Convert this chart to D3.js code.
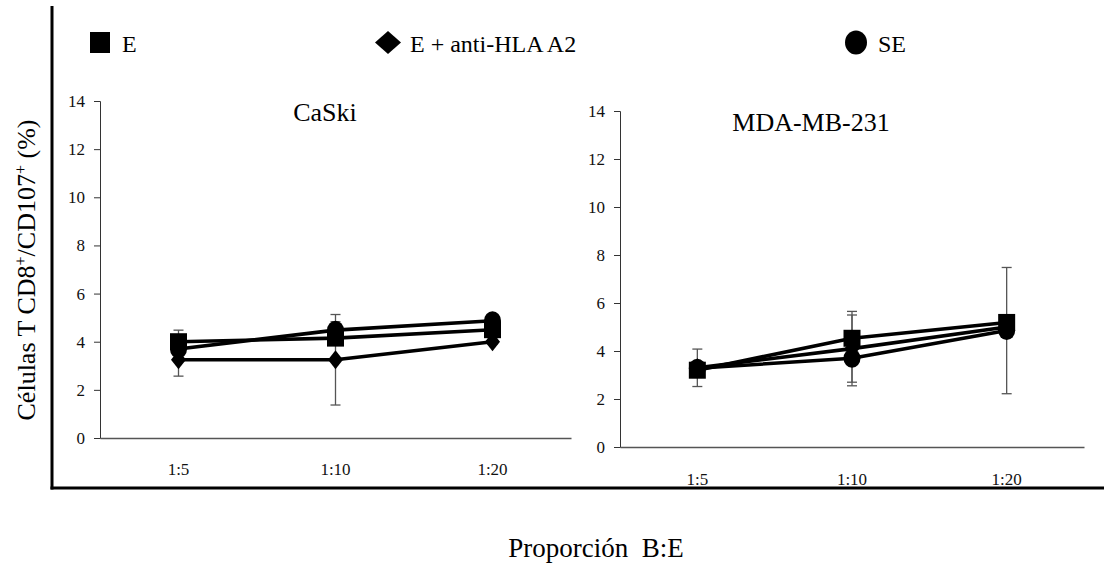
<!DOCTYPE html>
<html><head><meta charset="utf-8">
<script src="https://cdn.jsdelivr.net/npm/d3@7"></script>
<style>body{margin:0;background:#fff}</style>
</head><body>
<svg id="c" width="1104" height="567"></svg>
<script>
// ---- data ----
const categories = ["1:5", "1:10", "1:20"];
const seriesNames = ["E", "E + anti-HLA A2", "SE"];
const seriesShapes = ["square", "diamond", "circle"];
const yTicks = [0, 2, 4, 6, 8, 10, 12, 14];

const caskiE = [4.0, 4.15, 4.5];
const caskiEErr = [0.48, 0.2, 0.1];
const caskiA2 = [3.25, 3.25, 4.0];
const caskiA2Err = [0.68, 1.88, 0.1];
const caskiSE = [3.7, 4.48, 4.87];
const caskiSEErr = [0.2, 0.35, 0.1];

const mdaE = [3.2, 4.53, 5.19];
const mdaEErr = [0.3, 0.97, 0.2];
const mdaA2 = [3.3, 4.1, 5.0];
const mdaA2Err = [0.78, 1.55, 0.2];
const mdaSE = [3.28, 3.7, 4.85];
const mdaSEErr = [0.2, 1.0, 2.63];

const panelTitles = ["CaSki", "MDA-MB-231"];

// ---- drawing ----
const FONT = "Liberation Serif";
const svg = d3.select("#c");

function addText(parent, str, x, y, size, anchor) {
  return parent.append("text").attr("x", x).attr("y", y)
    .attr("font-family", FONT).attr("font-size", size)
    .attr("text-anchor", anchor || "middle").attr("fill", "#000").text(str);
}

const panels = [
  { title: panelTitles[0], xr: [100, 571], yr: [438, 101], titleX: 325, titleY: 121, labY: 475,
    series: [[caskiE, caskiEErr], [caskiA2, caskiA2Err], [caskiSE, caskiSEErr]] },
  { title: panelTitles[1], xr: [620, 1084], yr: [447, 111], titleX: 811, titleY: 131, labY: 485,
    series: [[mdaE, mdaEErr], [mdaA2, mdaA2Err], [mdaSE, mdaSEErr]] }
];

function marker(g, shape, cx, cy) {
  if (shape === "square") {
    g.append("rect").attr("x", cx - 8.5).attr("y", cy - 8.5).attr("width", 17).attr("height", 17).attr("fill", "#000");
  } else if (shape === "diamond") {
    g.append("path").attr("d", `M${cx},${cy - 9.5}L${cx + 7.5},${cy}L${cx},${cy + 9.5}L${cx - 7.5},${cy}Z`).attr("fill", "#000");
  } else {
    g.append("ellipse").attr("cx", cx).attr("cy", cy).attr("rx", 8.5).attr("ry", 9.5).attr("fill", "#000");
  }
}

panels.forEach(p => {
  const x = d3.scaleBand().domain(categories).range(p.xr);
  const y = d3.scaleLinear().domain([0, 14]).range(p.yr);
  const g = svg.append("g");

  // y axis
  const ya = g.append("g").attr("transform", `translate(${p.xr[0]},0)`)
    .call(d3.axisLeft(y).tickValues(yTicks).tickSize(6).tickFormat(""));
  ya.selectAll("path,line").attr("stroke", "#333").attr("stroke-width", 1);
  yTicks.forEach(t => addText(svg, String(t), p.xr[0] - 15, y(t) + 6, 17, "end").attr("fill", "#111"));

  // x axis
  const xa = g.append("g").attr("transform", `translate(0,${p.yr[0]})`)
    .call(d3.axisBottom(x).tickSize(0).tickFormat(""));
  xa.select(".domain").attr("stroke", "#555").attr("stroke-width", 1.3);
  categories.forEach(c => addText(svg, c, x(c) + x.bandwidth() / 2, p.labY, 17).attr("fill", "#111"));

  // title
  addText(svg, p.title, p.titleX, p.titleY, 26);

  const cx = c => x(c) + x.bandwidth() / 2;

  // error bars
  p.series.forEach(([vals, errs]) => {
    vals.forEach((v, i) => {
      const xc = cx(categories[i]);
      const yt = y(v + errs[i]), yb = y(v - errs[i]);
      g.append("line").attr("x1", xc).attr("x2", xc).attr("y1", yt).attr("y2", yb)
        .attr("stroke", "#555").attr("stroke-width", 1.3);
      [yt, yb].forEach(yy => g.append("line").attr("x1", xc - 5).attr("x2", xc + 5)
        .attr("y1", yy).attr("y2", yy).attr("stroke", "#555").attr("stroke-width", 1.3));
    });
  });

  // lines
  const line = d3.line().x((d, i) => cx(categories[i])).y(d => y(d));
  p.series.forEach(([vals]) => {
    g.append("path").attr("d", line(vals)).attr("fill", "none")
      .attr("stroke", "#000").attr("stroke-width", 3.6).attr("stroke-linejoin", "round");
  });

  // markers
  p.series.forEach(([vals], si) => {
    vals.forEach((v, i) => marker(g, seriesShapes[si], cx(categories[i]), y(v)));
  });
});

// legend
const legendCX = [100, 388, 856];
seriesNames.forEach((n, i) => {
  const mx = legendCX[i];
  if (seriesShapes[i] === "square") svg.append("rect").attr("x", mx - 10).attr("y", 32).attr("width", 20).attr("height", 21).attr("fill", "#000");
  else if (seriesShapes[i] === "diamond") svg.append("path").attr("d", `M${mx},${31}L${mx + 13},${42.5}L${mx},${54}L${mx - 13},${42.5}Z`).attr("fill", "#000");
  else svg.append("ellipse").attr("cx", mx).attr("cy", 42.5).attr("rx", 11).attr("ry", 12).attr("fill", "#000");
  addText(svg, n, mx + 22, 52, 24, "start");
});

// frame lines
svg.append("line").attr("x1", 52).attr("x2", 52).attr("y1", 6).attr("y2", 489.5).attr("stroke", "#000").attr("stroke-width", 3);
svg.append("line").attr("x1", 50.5).attr("x2", 1104).attr("y1", 488).attr("y2", 488).attr("stroke", "#000").attr("stroke-width", 3);

// y title
const yt = addText(svg, "", 0, 0, 26).attr("transform", "translate(35,270) rotate(-90)");
yt.append("tspan").text("Células T CD8");
yt.append("tspan").attr("font-size", 16).attr("dy", -9).text("+");
yt.append("tspan").attr("dy", 9).text("/CD107");
yt.append("tspan").attr("font-size", 16).attr("dy", -9).text("+");
yt.append("tspan").attr("dy", 9).text(" (%)");

// x title
addText(svg, "Proporción\u00A0\u00A0B:E", 596, 557, 27);
</script>
</body></html>
